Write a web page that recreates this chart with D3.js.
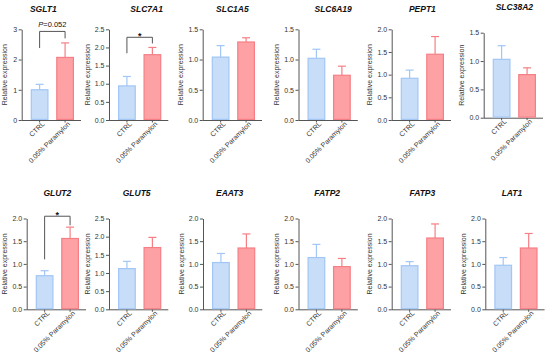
<!DOCTYPE html>
<html>
<head>
<meta charset="utf-8">
<script src="https://cdn.jsdelivr.net/npm/d3@7"></script>
<style>
  body { margin: 0; background: #fff; }
  text { font-family: "Liberation Sans", Arial, sans-serif; }
</style>
</head>
<body>
<svg id="chart" width="550" height="363"></svg>
<script>
// values (mean, and SEM going up)
var genes = ["SGLT1", "SLC7A1", "SLC1A5", "SLC6A19", "PEPT1", "SLC38A2",
             "GLUT2", "GLUT5", "EAAT3", "FATP2", "FATP3", "LAT1"];
var groups = ["CTRL", "0.05% Paramylon"];
var ctrlMean = [1.00, 0.94, 1.04, 1.02, 0.92, 1.03, 0.74, 1.12, 1.03, 1.14, 0.96, 0.97];
var ctrlErr  = [0.18, 0.26, 0.19, 0.15, 0.18, 0.24, 0.11, 0.20, 0.20, 0.29, 0.09, 0.17];
var parMean  = [2.07, 1.80, 1.29, 0.74, 1.45, 0.76, 1.56, 1.70, 1.35, 0.94, 1.57, 1.35];
var parErr   = [0.48, 0.20, 0.07, 0.15, 0.39, 0.12, 0.25, 0.28, 0.31, 0.18, 0.31, 0.32];
var yMax     = [3, 2.5, 1.5, 1.5, 2, 1.5, 2, 2.5, 2, 2, 2, 2];
var tickStep = [1, 0.5, 0.5, 0.5, 0.5, 0.5, 0.5, 0.5, 0.5, 0.5, 0.5, 0.5];

// significance brackets (in data units of their panel)
var sigPanel = [0, 1, 6];
var sigLabel = ["P=0.052", "*", "*"];
var sigTop   = [2.93, 2.28, 2.05];
var sigLeft  = [2.38, 1.84, 1.10];
var sigRight = [2.70, 2.11, 1.85];

// where each panel sits
var layout = [
  {x0: 30.7,  top: 29.3,  bottom: 120,   ty: 12,    tdx: -9},
  {x0: 118,   top: 29.3,  bottom: 120,   ty: 12,    tdx: 7},
  {x0: 211.7, top: 29.3,  bottom: 120,   ty: 12,    tdx: -1},
  {x0: 307.5, top: 29.3,  bottom: 120,   ty: 12,    tdx: 4},
  {x0: 400.7, top: 29.3,  bottom: 120,   ty: 12,    tdx: 0},
  {x0: 492.7, top: 32.7,  bottom: 117.7, ty: 10,    tdx: 0},
  {x0: 35.7,  top: 218.5, bottom: 309.3, ty: 195.5, tdx: 0},
  {x0: 118,   top: 218.5, bottom: 309.3, ty: 195.5, tdx: -3},
  {x0: 212,   top: 218.5, bottom: 309.3, ty: 195.5, tdx: -4},
  {x0: 307.5, top: 218.5, bottom: 309.3, ty: 195.5, tdx: -2},
  {x0: 400.7, top: 218.5, bottom: 309.3, ty: 195.5, tdx: 0},
  {x0: 494.3, top: 218.5, bottom: 309.3, ty: 195.5, tdx: -4}
];

var fills = ["#c8ddf8", "#fea1a5"],
    strokes = ["#a2c6f5", "#f57f85"],
    groupW = 43.3,
    axisColor = "#555",
    textColor = "#333";

var svg = d3.select("#chart");

genes.forEach(function(gene, i) {
  var L = layout[i],
      g = svg.append("g"),
      axisX = L.x0 - 9,
      xEnd = L.x0 + groupW + 7;

  var x = d3.scaleBand()
    .domain(groups)
    .range([L.x0, L.x0 + groupW])
    .paddingInner(0.3);

  var y = d3.scaleLinear()
    .domain([0, yMax[i]])
    .range([L.bottom, L.top]);

  var ticks = d3.range(0, yMax[i] + 1e-9, tickStep[i]);
  var fmt = tickStep[i] < 1 ? d3.format(".1f") : d3.format("d");

  // y axis
  var ya = g.append("g")
    .attr("transform", "translate(" + axisX + ",0)")
    .call(d3.axisLeft(y).tickValues(ticks).tickFormat(fmt).tickSize(3).tickSizeOuter(0).tickPadding(1.5));
  ya.select(".domain").attr("stroke", axisColor);
  ya.selectAll(".tick line").attr("stroke", axisColor);
  ya.selectAll(".tick text").attr("fill", textColor).style("font-size", "7px");

  // x axis
  var xa = g.append("g")
    .attr("transform", "translate(0," + L.bottom + ")")
    .call(d3.axisBottom(x).tickSize(2.5).tickSizeOuter(0).tickPadding(2));
  xa.select(".domain")
    .attr("d", "M" + axisX + ",0.5H" + xEnd)
    .attr("stroke", axisColor);
  xa.selectAll(".tick line").attr("stroke", axisColor);
  xa.selectAll(".tick text")
    .attr("fill", textColor)
    .style("font-size", "7px")
    .attr("text-anchor", "end")
    .attr("dx", "0.1em")
    .attr("dy", "0.35em")
    .attr("transform", "rotate(-45)");

  var rows = [
    {grp: groups[0], mean: ctrlMean[i], err: ctrlErr[i], k: 0},
    {grp: groups[1], mean: parMean[i], err: parErr[i], k: 1}
  ];

  // error bars (up only)
  var eb = g.selectAll(".err")
    .data(rows)
    .enter().append("g")
    .attr("stroke", function(d) { return strokes[d.k]; })
    .attr("stroke-width", 1.2);
  eb.append("line")
    .attr("x1", function(d) { return x(d.grp) + x.bandwidth() / 2; })
    .attr("x2", function(d) { return x(d.grp) + x.bandwidth() / 2; })
    .attr("y1", function(d) { return y(d.mean); })
    .attr("y2", function(d) { return y(d.mean + d.err); });
  eb.append("line")
    .attr("x1", function(d) { return x(d.grp) + x.bandwidth() / 2 - 4; })
    .attr("x2", function(d) { return x(d.grp) + x.bandwidth() / 2 + 4; })
    .attr("y1", function(d) { return y(d.mean + d.err); })
    .attr("y2", function(d) { return y(d.mean + d.err); });

  // bars
  g.selectAll(".bar")
    .data(rows)
    .enter().append("rect")
    .attr("x", function(d) { return x(d.grp) + 0.6; })
    .attr("y", function(d) { return y(d.mean); })
    .attr("width", x.bandwidth() - 1.2)
    .attr("height", function(d) { return L.bottom - y(d.mean) - 0.6; })
    .attr("fill", function(d) { return fills[d.k]; })
    .attr("stroke", function(d) { return strokes[d.k]; })
    .attr("stroke-width", 1.2);

  // title
  g.append("text")
    .attr("x", L.x0 + groupW / 2 + L.tdx)
    .attr("y", L.ty)
    .attr("text-anchor", "middle")
    .style("font-size", "8.5px")
    .style("font-weight", "bold")
    .style("font-style", "italic")
    .attr("fill", "#111")
    .text(gene);

  // y label
  var labX = axisX - (tickStep[i] < 1 ? 19.5 : 14.5),
      labY = (L.top + L.bottom) / 2;
  g.append("text")
    .attr("transform", "translate(" + labX + "," + labY + ") rotate(-90)")
    .attr("text-anchor", "middle")
    .style("font-size", "7px")
    .attr("fill", textColor)
    .text("Relative expression");

  // significance bracket
  var s = sigPanel.indexOf(i);
  if (s >= 0) {
    var cx0 = x(groups[0]) + x.bandwidth() / 2,
        cx1 = x(groups[1]) + x.bandwidth() / 2,
        yt = y(sigTop[s]);
    g.append("path")
      .attr("d", d3.line()([[cx0, y(sigLeft[s])], [cx0, yt], [cx1, yt], [cx1, y(sigRight[s])]]))
      .attr("fill", "none")
      .attr("stroke", axisColor)
      .attr("stroke-width", 1);
    var lab = g.append("text")
      .attr("x", (cx0 + cx1) / 2)
      .attr("text-anchor", "middle")
      .attr("fill", "#111");
    if (sigLabel[s] === "*") {
      lab.attr("y", yt + 1.5).style("font-size", "9px").style("font-weight", "bold").text("*");
    } else {
      lab.attr("y", yt - 4).style("font-size", "7.5px");
      lab.append("tspan").style("font-style", "italic").text(sigLabel[s].slice(0, 1));
      lab.append("tspan").text(sigLabel[s].slice(1));
    }
  }
});
</script>
</body>
</html>
